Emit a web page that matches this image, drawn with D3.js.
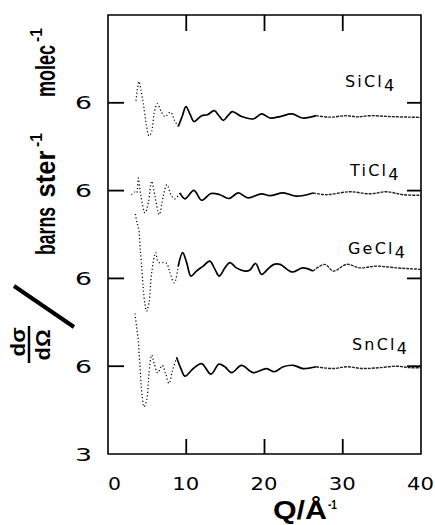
<!DOCTYPE html>
<html><head><meta charset="utf-8">
<script src="https://cdn.jsdelivr.net/npm/d3@7/dist/d3.min.js"></script>
<style>
html,body{margin:0;padding:0;background:#fff;}
svg{display:block;}
</style></head>
<body>
<div id="chart"></div>
<script>
// ---- data ----
const xTicks = [0, 10, 20, 30, 40];
const xTickLabels = ["0", "10", "20", "30", "40"];
const yTicks = [3, 6, 9, 12, 15];
const yTickLabels = ["3", "6", "6", "6", "6"];
const compounds = ["SiCl", "TiCl", "GeCl", "SnCl"];
const offsets = [15, 12, 9, 6];

// [Q (1/Å), deviation from each curve's "6" baseline]
const siCl4 = [[3.58,0.07],[3.75,0.45],[3.96,0.73],[4.2,0.45],[4.5,0],[4.94,-0.81],[5.24,-1.13],[5.58,-0.98],[5.9,-0.35],[6.3,-0.03],[6.8,-0.3],[7.28,-0.47],[8.0,-0.32],[8.5,-0.6],[8.98,-0.81],[9.5,-0.45],[9.96,-0.13],[10.5,-0.4],[11.0,-0.64],[11.96,-0.44],[12.7,-0.41],[13.58,-0.27],[14.2,-0.45],[14.73,-0.6],[15.3,-0.45],[15.88,-0.3],[17.07,-0.47],[18.56,-0.55],[19.63,-0.38],[20.7,-0.52],[22,-0.47],[23.5,-0.38],[24.9,-0.52],[26.6,-0.44],[28.35,-0.49],[30.5,-0.44],[31.8,-0.48],[33.5,-0.44],[36,-0.47],[38.6,-0.49],[40,-0.5]];
const tiCl4 = [[3.0,-0.14],[3.4,-0.05],[3.66,-0.08],[3.87,0.43],[4.2,-0.17],[4.73,-0.76],[5.15,-0.42],[5.58,0.32],[6.0,-0.19],[6.55,-0.82],[7.06,-0.19],[7.53,0.2],[8.13,-0.19],[8.56,-0.28],[9.2,-0.08],[9.83,-0.28],[10.98,0.01],[11.96,-0.33],[13.15,-0.1],[14.3,-0.14],[15.45,-0.27],[16.65,-0.08],[17.9,-0.25],[19.6,-0.11],[20.7,-0.17],[22.4,-0.08],[24.1,-0.19],[26.2,-0.08],[27.9,-0.14],[30.9,-0.04],[33.5,-0.11],[35.6,-0.04],[37.7,-0.14],[40,-0.16]];
const geCl4 = [[3.5,2.2],[3.66,1.96],[3.96,1.62],[4.09,1.1],[4.3,0.42],[4.5,-0.32],[4.73,-0.89],[4.94,-1.12],[5.24,-0.83],[5.58,0.19],[6.09,0.88],[6.43,0.56],[7.07,0.54],[7.5,0.51],[7.92,0.19],[8.48,-0.15],[8.98,0.42],[9.54,0.88],[10.05,0.54],[10.6,0.08],[11.3,0.25],[12.17,0.42],[13.0,0.59],[13.67,0.31],[14.2,0.08],[14.94,0.36],[15.58,0.54],[16.4,0.36],[17.5,0.25],[18.1,0.28],[18.86,0.51],[19.63,0.14],[20.47,0.33],[21.2,0.48],[22,0.48],[23.5,0.22],[24.9,0.36],[26.2,0.25],[27.7,0.48],[28.8,0.25],[30.5,0.48],[32.2,0.36],[34.3,0.42],[36.9,0.36],[38.6,0.33],[40,0.31]];
const snCl4 = [[3.45,1.8],[3.66,1.34],[3.87,0.89],[3.96,0.49],[4.09,-0.02],[4.21,-0.54],[4.38,-1.05],[4.6,-1.39],[4.94,-1.16],[5.15,-0.59],[5.24,-0.25],[5.58,0.38],[5.92,0.09],[6.34,-0.23],[6.93,0.03],[7.36,-0.25],[7.79,-0.59],[8.25,-0.14],[8.77,0.3],[9.32,-0.08],[9.83,-0.34],[10.9,-0.08],[11.96,0.09],[13.15,-0.27],[14.18,0.07],[14.94,-0.02],[15.8,-0.22],[17.07,0.03],[18.56,-0.22],[20.26,-0.08],[21.24,-0.19],[22.4,-0.02],[23.7,0.03],[24.9,-0.08],[26.6,-0.02],[28.8,-0.08],[30.5,-0.02],[32.6,-0.08],[34.7,-0.05],[36.9,0],[38.6,-0.05],[40,-0.05]];
const seriesData = [siCl4, tiCl4, geCl4, snCl4];

// ---- layout ----
const W = 435, H = 525;
const mLeft = 108, mRight = 421, mTop = 15, mBottom = 454;
const svg = d3.select("#chart").append("svg").attr("width", W).attr("height", H);

const x = d3.scaleLinear().domain([0, 40]).range([mLeft, mRight]);
const y = d3.scaleLinear().domain([3, 18]).range([mBottom, mTop]);

// tick labels
const tickFont = "'DejaVu Sans', sans-serif";
xTicks.forEach((v, i) => {
  const s = xTickLabels[i];
  svg.append("text").attr("x", x(v) + 13).attr("y", 490)
    .attr("text-anchor", "end").attr("font-family", tickFont)
    .attr("font-size", 18).attr("textLength", 14 * s.length - 1).attr("lengthAdjust", "spacingAndGlyphs")
    .attr("fill", "#000").text(s);
});
yTicks.forEach((v, i) => {
  svg.append("text").attr("x", 92).attr("y", y(v) + 6.5)
    .attr("text-anchor", "end").attr("font-family", tickFont)
    .attr("font-size", 18).attr("textLength", 17).attr("lengthAdjust", "spacingAndGlyphs")
    .attr("fill", "#000").text(yTickLabels[i]);
});

// curves
const lineGen = d3.line().x(d => x(d[0])).y(d => d.py).curve(d3.curveCatmullRom.alpha(0.5));
seriesData.forEach((data, k) => {
  const pts = data.map(d => { const p = [d[0], d[1]]; p.py = y(offsets[k] + d[1]); return p; });
  const i = pts.findIndex(p => p[0] >= 8.6);
  const j = pts.findIndex(p => p[0] >= 26);
  const head = pts.slice(0, i + 1), body = pts.slice(i, j + 1), tail = pts.slice(j);
  svg.append("path").attr("d", lineGen(head)).attr("fill", "none")
    .attr("stroke", "#111").attr("stroke-width", 1.3).attr("stroke-dasharray", "1.2 2.3");
  svg.append("path").attr("d", lineGen(body)).attr("fill", "none")
    .attr("stroke", "#000").attr("stroke-width", 1.7);
  svg.append("path").attr("d", lineGen(tail)).attr("fill", "none")
    .attr("stroke", "#222").attr("stroke-width", 1.4).attr("stroke-dasharray", "3 1");
});

// compound labels
const labelPos = [[345, 87], [350, 176], [348, 254], [352, 350]];
compounds.forEach((c, k) => {
  const t = svg.append("text").attr("x", labelPos[k][0]).attr("y", labelPos[k][1])
    .attr("font-family", tickFont).attr("font-size", 16).attr("letter-spacing", 2.2)
    .attr("fill", "#000");
  t.append("tspan").text(c);
  t.append("tspan").attr("dy", 4).text("4");
});

// x-axis title
const boldFont = "'Liberation Sans', Arial, sans-serif";
svg.append("text").attr("x", 273).attr("y", 519).attr("font-family", boldFont)
  .attr("font-weight", "bold").attr("font-size", 25)
  .attr("textLength", 54).attr("lengthAdjust", "spacingAndGlyphs").text("Q/Å");
svg.append("text").attr("x", 328).attr("y", 509).attr("font-family", boldFont)
  .attr("font-weight", "bold").attr("font-size", 13)
  .attr("textLength", 9).attr("lengthAdjust", "spacingAndGlyphs").text("-1");

// y-axis title (rotated pieces)
function rot(txt, cx, cy, size, len){
  svg.append("text").attr("transform", `translate(${cx},${cy}) rotate(-90)`)
    .attr("text-anchor", "middle").attr("font-family", boldFont).attr("font-weight", "bold")
    .attr("font-size", size).attr("textLength", len).attr("lengthAdjust", "spacingAndGlyphs")
    .attr("fill", "#000").text(txt);
}
rot("barns", 55, 231, 28, 48);
rot("ster", 55, 174, 28, 47);
rot("-1", 42, 140, 16, 14);
rot("molec", 55, 71, 28, 52);
rot("-1", 42, 35, 16, 14);
rot("dσ", 25, 342, 21, 29);
rot("dΩ", 50, 345, 21, 31);
svg.append("line").attr("x1", 29).attr("x2", 29).attr("y1", 326).attr("y2", 363)
  .attr("stroke", "#000").attr("stroke-width", 2.5);
svg.append("line").attr("x1", 14).attr("y1", 286).attr("x2", 74).attr("y2", 327)
  .attr("stroke", "#000").attr("stroke-width", 4);

// ---- frame (filled ring) and inward ticks (filled bars), from the scales ----
const fw = 0.8;
const x0 = x(0), x1 = x(40), yB = y(3), yT = y(18);
const ring = `M${x0 - fw},${yT - fw}H${x1 + fw}V${yB + fw}H${x0 - fw}Z` +
             `M${x0 + fw},${yT + fw}V${yB - fw}H${x1 - fw}V${yT + fw}Z`;
svg.append("path").attr("d", ring).attr("fill", "#000").attr("fill-rule", "evenodd").attr("stroke", "none");
const bar = (bx, by, bw, bh) => svg.append("rect")
  .attr("x", bx).attr("y", by).attr("width", bw).attr("height", bh)
  .attr("fill", "#000").attr("stroke", "none");
xTicks.filter(v => v > 0 && v < 40).forEach(v => {
  bar(x(v) - 0.9, yB - 15, 1.8, 15);
  bar(x(v) - 0.9, yT, 1.8, 16);
});
yTicks.filter(v => v > 3).forEach(v => {
  bar(x0, y(v) - 0.9, 16, 1.8);
  bar(x1 - 14, y(v) - 0.9, 14, 1.8);
});
</script>
</body></html>
